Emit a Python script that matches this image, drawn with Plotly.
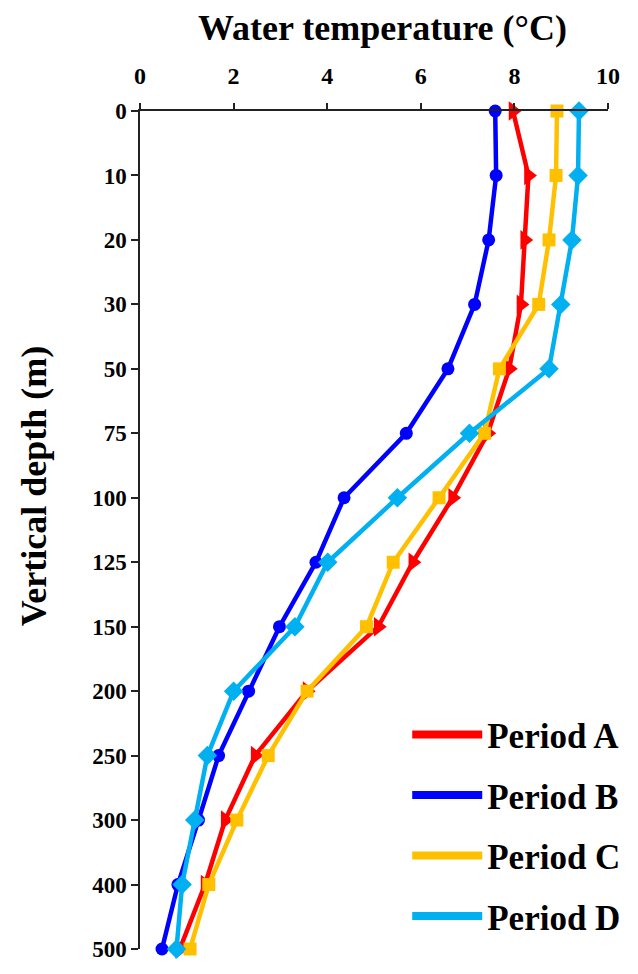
import plotly.graph_objects as go

depths = ["0", "10", "20", "30", "50", "75", "100", "125", "150", "200", "250", "300", "400", "500"]
period_a = [7.97, 8.30, 8.22, 8.14, 7.89, 7.43, 6.68, 5.83, 5.09, 3.57, 2.46, 1.82, 1.39, 0.85]
period_b = [7.59, 7.61, 7.45, 7.15, 6.58, 5.69, 4.36, 3.76, 2.98, 2.32, 1.68, 1.25, 0.81, 0.47]
period_c = [8.91, 8.89, 8.74, 8.52, 7.68, 7.36, 6.39, 5.41, 4.84, 3.57, 2.74, 2.07, 1.47, 1.07]
period_d = [9.38, 9.36, 9.23, 8.99, 8.74, 7.04, 5.50, 4.01, 3.31, 2.00, 1.44, 1.17, 0.90, 0.78]
x_ticks = [0, 2, 4, 6, 8, 10]

series = [
    ("Period A", period_a, "#FF0000", "triangle-right", 17),
    ("Period B", period_b, "#0000FF", "circle", 13),
    ("Period C", period_c, "#FFC000", "square", 13),
    ("Period D", period_d, "#00B0F0", "diamond", 15),
]

FONT = "Liberation Serif"
fig = go.Figure()
for name, vals, color, sym, size in series:
    fig.add_trace(go.Scatter(
        x=vals, y=depths, mode="lines+markers", name=name,
        line=dict(color=color, width=4.5),
        marker=dict(symbol=sym, size=size, color=color),
        cliponaxis=False, showlegend=False,
    ))
for name, vals, color, sym, size in series:
    fig.add_trace(go.Scatter(
        x=[None], y=[None], mode="lines", name=name,
        line=dict(color=color, width=8),
        legendgroup=name, showlegend=True,
    ))

fig.update_layout(
    width=638, height=974,
    margin=dict(l=139.5, r=29, t=111, b=14),
    paper_bgcolor="white", plot_bgcolor="white",
    font=dict(family=FONT, size=22, color="black"),
    xaxis=dict(
        range=[0, 10], side="top", tickvals=x_ticks, ticktext=[str(v) for v in x_ticks],
        showgrid=False, zeroline=False, showline=True, linecolor="#222", linewidth=1.5,
        ticks="outside", ticklen=6, tickwidth=1.5, tickcolor="#222",
        ticklabelstandoff=10,
        tickfont=dict(family=FONT, size=24, color="black", weight="bold"),
    ),
    yaxis=dict(
        type="category", categoryorder="array", categoryarray=depths,
        range=[len(depths) - 1, 0],
        showgrid=False, zeroline=False, showline=True, linecolor="#222", linewidth=1.5,
        ticks="outside", ticklen=7, tickwidth=1.5, tickcolor="#222",
        tickfont=dict(family=FONT, size=23, color="black", weight="bold"),
    ),
    legend=dict(
        x=0.571, y=0.291, xanchor="left", yanchor="top",
        font=dict(family=FONT, size=35, color="black", weight="bold"),
        bgcolor="rgba(0,0,0,0)", itemwidth=70, tracegroupgap=12,
    ),
    annotations=[
        dict(text="Water temperature (°C)", xref="paper", yref="paper",
             x=0.519, y=1.099, xanchor="center", yanchor="middle", showarrow=False,
             font=dict(family=FONT, size=36, color="black", weight="bold")),
        dict(text="Vertical depth (m)", xref="paper", yref="paper",
             x=-0.227, y=0.553, xanchor="center", yanchor="middle", showarrow=False,
             textangle=-90,
             font=dict(family=FONT, size=36, color="black", weight="bold")),
    ],
)

fig.write_html("out.html")
